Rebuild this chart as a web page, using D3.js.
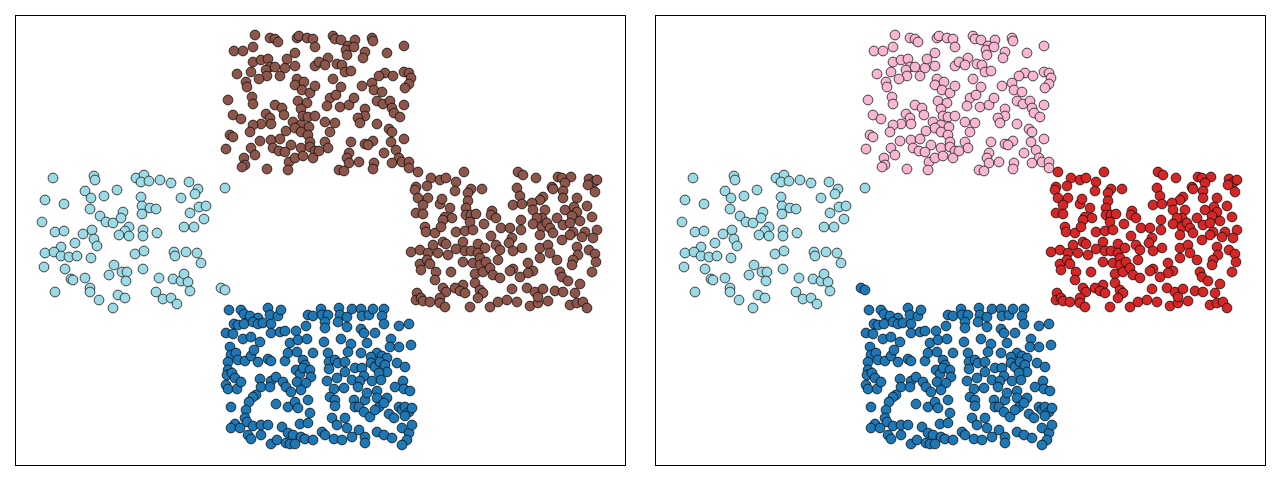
<!DOCTYPE html>
<html>
<head>
<meta charset="utf-8">
<script src="https://cdn.jsdelivr.net/npm/d3@7/dist/d3.min.js"></script>
<style>
  html, body { margin: 0; padding: 0; background: #ffffff; }
  svg { display: block; }
</style>
</head>
<body>
<svg id="chart" width="1280" height="480"></svg>
<script>
// ---------------- data (arbitrary units, x: 0..610, y: 0..450) ----------------
const clusterLeft = [
[38,287],[79,289],[80,285],[102,275],[70,274],[76,267],[89,269],[30,265],[49,261],[108,253],[75,256],[85,249],[91,243],[98,242],[106,247],[27,243],[114,238],[110,234],[104,230],[114,229],[77,235],[68,231],[79,226],[40,233],[49,234],[60,222],[82,219],[46,218],[30,212],[39,213],[46,209],[54,208],[62,209],[76,207],[29,198],[50,196],[99,200],[94,190],[107,193],[112,193],[111,184],[56,186],[58,185],[70,187],[40,173],[75,177],[75,173],[84,165],[103,170],[110,167],[98,157],
[121,287],[129,290],[126,283],[134,284],[145,285],[156,282],[174,283],[183,276],[180,271],[126,268],[166,267],[127,259],[135,257],[141,256],[127,251],[184,258],[191,259],[175,252],[189,246],[169,238],[179,238],[128,235],[128,229],[142,232],[120,211],[129,214],[159,213],[160,209],[171,213],[182,212],[186,202],[128,196],[144,187],[158,186],[166,184],[169,191],[173,183],[175,174],[141,173],[148,166],[156,167],[162,161]
];
const outlierTop = [[210,277]];
const outlierLow = [[206,177],[210,175]];

const clusterTop = [
[240,430],[255,427],[260,426],[263,423],[282,427],[284,429],[292,427],[298,426],[219,414],[228,414],[238,418],[280,412],[300,418],[238,403],[246,405],[253,406],[255,398],[251,395],[260,398],[270,397],[272,406],[280,399],[300,399],[222,391],[236,393],[252,389],[244,386],[265,389],[231,383],[232,378],[282,386],[280,380],[289,383],[287,375],[295,372],[300,379],[213,365],[237,368],[238,361],[260,360],[267,357],[283,364],[292,362],[286,356],[288,349],[293,348],[300,349],[218,350],[226,346],[251,351],[255,347],[269,350],[256,341],[246,341],[238,340],[235,333],[278,343],[286,340],[294,338],[215,330],[218,328],[245,324],[256,325],[265,326],[271,334],[280,337],[286,333],[293,330],[236,317],[258,317],[276,320],[264,314],[270,313],[286,317],[295,323],[295,318],[211,316],[240,310],[229,307],[300,314],[230,300],[227,298],[252,296],[274,303],[280,307],[288,309],[298,307],[273,295],
[318,429],[320,426],[326,425],[340,425],[357,427],[358,424],[389,419],[372,412],[333,419],[331,415],[332,410],[339,418],[350,413],[348,407],[313,407],[304,403],[310,400],[322,401],[327,400],[330,393],[336,394],[370,392],[364,389],[378,389],[389,393],[394,392],[396,387],[394,381],[390,377],[318,386],[326,378],[347,379],[357,382],[359,375],[367,373],[315,367],[321,370],[312,359],[325,358],[334,360],[339,367],[362,364],[368,361],[375,364],[377,357],[379,352],[385,348],[389,360],[350,356],[350,349],[343,347],[345,342],[362,341],[374,336],[377,333],[310,343],[320,342],[315,333],[376,323],[389,326],[336,323],[350,321],[358,324],[310,323],[313,317],[304,314],[334,312],[332,307],[334,302],[344,303],[369,312],[381,315],[384,307],[377,302],[387,303],[394,303],[394,297],[324,295],[329,294],[359,302],[358,296],[353,320]
];

const clusterRight = [
[403,293],[449,293],[416,287],[425,285],[431,287],[412,279],[401,278],[400,275],[441,283],[440,274],[456,276],[467,276],[453,272],[403,267],[413,267],[408,260],[425,261],[427,266],[453,264],[451,257],[435,257],[401,252],[408,251],[430,248],[437,247],[428,245],[477,254],[476,250],[451,250],[456,250],[461,251],[455,243],[469,241],[481,247],[410,238],[411,233],[420,232],[426,238],[441,233],[450,234],[458,235],[486,237],[476,229],[428,223],[431,221],[418,220],[448,223],[463,221],[481,220],[485,215],[396,213],[405,215],[413,212],[423,212],[433,210],[441,216],[450,214],[456,214],[463,212],[470,217],[405,201],[412,205],[415,201],[406,195],[421,193],[420,185],[436,193],[448,203],[458,202],[465,207],[465,200],[471,203],[483,205],[460,191],[468,193],[475,197],[478,190],[485,187],[460,182],[448,180],[440,177],[428,177],[431,173],[445,174],[450,172],[465,175],[468,172],[402,172],[401,165],[406,167],[408,164],[415,163],[425,167],[425,162],[430,158],[455,158],[475,158],[483,163],[463,167],
[503,293],[508,290],[521,287],[543,288],[547,287],[556,288],[550,282],[537,278],[538,276],[502,277],[574,286],[579,283],[582,285],[573,280],[580,273],[548,274],[505,269],[528,268],[525,265],[498,260],[507,261],[517,262],[518,255],[530,255],[527,247],[522,247],[548,267],[550,255],[562,267],[559,258],[562,253],[572,259],[577,248],[542,247],[557,249],[506,245],[518,241],[527,238],[532,242],[535,237],[538,232],[525,230],[548,240],[555,242],[558,233],[565,244],[570,233],[582,235],[578,227],[567,228],[555,230],[547,225],[495,237],[506,235],[497,227],[494,222],[507,217],[498,214],[525,217],[533,220],[535,212],[542,205],[525,207],[562,218],[563,210],[558,205],[574,215],[580,211],[581,203],[557,200],[498,196],[495,194],[513,202],[518,194],[513,192],[505,188],[545,193],[547,188],[553,184],[577,193],[497,176],[512,177],[520,173],[528,176],[540,174],[548,173],[565,181],[560,172],[492,165],[502,163],[515,159],[523,162],[523,168],[533,164],[555,160],[562,162],[568,163],[572,157]
];

const clusterBottom = [
[214,155],[226,155],[229,151],[235,149],[243,147],[253,157],[255,150],[263,149],[266,155],[293,150],[298,149],[219,141],[223,140],[229,141],[238,143],[243,141],[248,142],[256,141],[256,132],[265,133],[270,134],[281,134],[291,139],[211,132],[218,131],[228,126],[236,128],[245,123],[275,122],[283,125],[292,126],[215,118],[216,110],[221,112],[213,103],[223,105],[230,104],[236,109],[239,115],[243,103],[253,106],[256,104],[270,104],[273,112],[282,113],[288,105],[290,100],[298,112],[213,95],[212,90],[217,92],[220,87],[281,95],[285,91],[288,97],[295,95],[296,88],[211,80],[213,76],[222,76],[226,83],[245,86],[256,84],[261,88],[268,83],[271,78],[246,78],[241,70],[238,68],[234,63],[255,78],[282,83],[291,82],[286,75],[276,73],[216,58],[231,55],[261,61],[273,58],[280,63],[283,57],[293,65],[295,52],[220,41],[216,37],[230,47],[232,43],[225,37],[238,39],[246,40],[253,40],[267,38],[285,41],[293,42],[233,30],[236,26],[246,30],[273,32],[278,30],[286,28],[256,21],[262,25],[271,22],[275,21],[280,21],[290,26],[298,25],
[306,156],[307,150],[313,150],[324,157],[325,150],[332,148],[337,156],[346,156],[347,149],[354,150],[358,156],[369,156],[367,149],[369,141],[384,139],[394,141],[310,143],[310,137],[323,143],[332,138],[346,136],[349,132],[360,132],[376,126],[375,118],[384,118],[396,120],[309,123],[326,126],[336,121],[333,113],[352,122],[346,112],[362,112],[367,109],[356,108],[372,107],[313,112],[314,103],[320,105],[323,102],[330,103],[314,96],[330,93],[340,97],[347,97],[349,89],[356,102],[360,98],[365,103],[370,100],[372,93],[364,92],[382,102],[390,98],[312,84],[322,87],[337,85],[345,84],[343,78],[357,84],[366,85],[380,78],[388,84],[389,76],[395,74],[319,76],[315,68],[320,65],[320,59],[329,77],[339,65],[340,58],[344,58],[350,65],[352,72],[362,74],[362,67],[364,58],[372,67],[369,62],[317,47],[330,47],[332,37],[349,53],[355,48],[360,55],[384,58],[387,55],[390,58],[394,53],[397,57],[390,49],[374,51],[307,33],[310,30],[322,40],[319,26],[327,25],[337,28],[344,35],[350,28],[350,22],[362,33],[369,30],[377,27],[387,37],[394,32],[397,40],[392,25],[387,20],[379,47]
];

// group names per panel, and colour of each group in each panel
const groups = ["left", "top", "right", "bottom", "outlierTop", "outlierLow"];
const panelColors = [
  { left: "#9edae5", top: "#8c564b", right: "#8c564b", bottom: "#1f77b4", outlierTop: "#9edae5", outlierLow: "#9edae5" },
  { left: "#9edae5", top: "#f7b6d2", right: "#d62728", bottom: "#1f77b4", outlierTop: "#9edae5", outlierLow: "#1f77b4" }
];
const xDomain = [0, 610];
const yDomain = [0, 450];

// ---------------- drawing ----------------
const groupData = {
  left: clusterLeft, top: clusterTop, right: clusterRight, bottom: clusterBottom,
  outlierTop: outlierTop, outlierLow: outlierLow
};

const svg = d3.select("#chart");
const panelW = 610, panelH = 450;
const panelLefts = [15, 655];
const panelTop = 15;

const x = d3.scaleLinear().domain(xDomain).range([0, panelW]);
const y = d3.scaleLinear().domain(yDomain).range([panelH, 0]);

panelColors.forEach((colors, i) => {
  const g = svg.append("g").attr("transform", `translate(${panelLefts[i]},${panelTop})`);
  const pts = [];
  groups.forEach(name => groupData[name].forEach(p => pts.push({ x: p[0], y: p[1], c: colors[name] })));
  g.selectAll("circle").data(pts).enter().append("circle")
    .attr("cx", d => x(d.x))
    .attr("cy", d => y(d.y))
    .attr("r", 4.9)
    .attr("fill", d => d.c)
    .attr("stroke", "#000")
    .attr("stroke-width", 0.7);
  g.append("rect")
    .attr("x", 0.5).attr("y", 0.5)
    .attr("width", panelW).attr("height", panelH)
    .attr("fill", "none").attr("stroke", "#000").attr("stroke-width", 1);
});
</script>
</body>
</html>
